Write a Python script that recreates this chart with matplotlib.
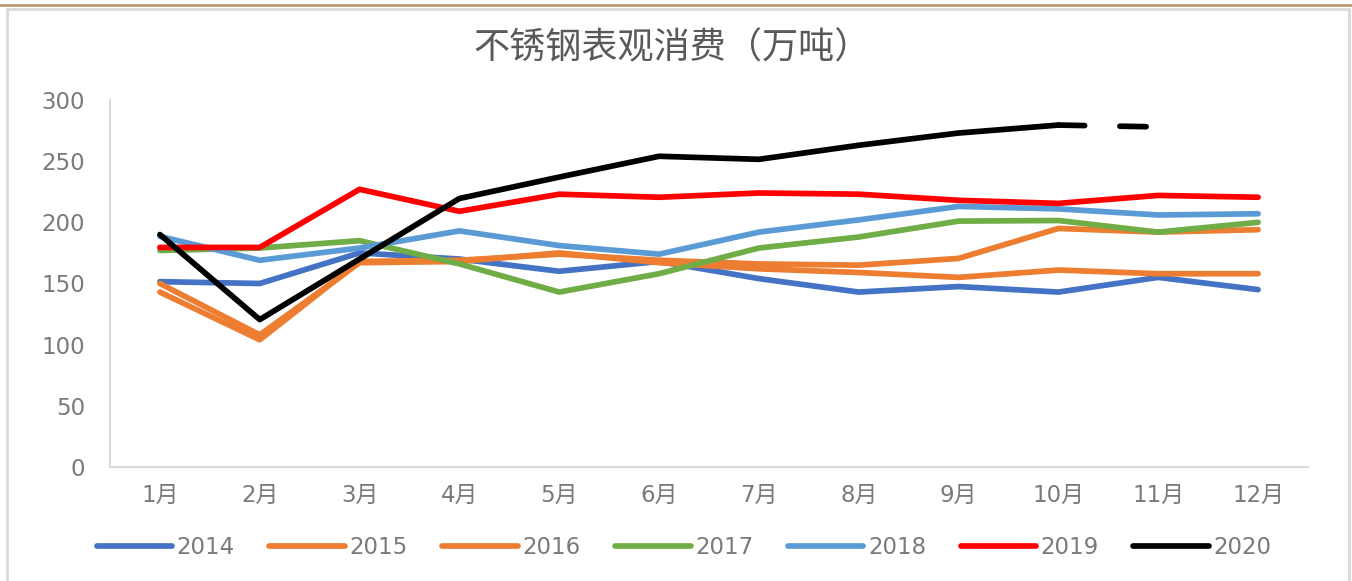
import matplotlib
matplotlib.use('Agg')
import matplotlib.pyplot as plt
from matplotlib.lines import Line2D
from matplotlib.patches import Rectangle
import numpy as np

params = {'font.family': ['DejaVu Sans', 'Noto Sans CJK SC'],
          'font.size': 16,
          'axes.linewidth': 1.5,
          'figure.dpi': 100,
          'savefig.dpi': 100,
          }
plt.rcParams.update(params)

###  DATA  ###

months = ['1月', '2月', '3月', '4月', '5月', '6月', '7月', '8月', '9月', '10月', '11月', '12月']

y2014 = [151.5, 150, 175, 170, 160, 168, 154, 143, 147.5, 143, 155, 145]
y2015 = [150, 108, 167, 168, 175, 167, 162, 159, 155, 161, 158, 158]
y2016 = [143, 104, 168, 169, 174, 169, 166, 165, 170.5, 195, 192, 194]
y2017 = [177, 179, 185, 166, 143, 158, 179, 188, 201, 201.5, 192, 200]
y2018 = [188.5, 169, 179, 193, 181, 174, 192, 202, 213, 211, 206, 207]
y2019 = [179.5, 179.5, 227, 209, 223, 220.5, 224, 223, 218, 215.5, 222, 220.5]
y2020 = [190, 120.5, 170, 219.5, 237, 254, 251.5, 263, 273, 279.5, 278]

labels = ['2014', '2015', '2016', '2017', '2018', '2019', '2020']
colors = ['#4472C4', '#ED7D31', '#ED7D31', '#70AD47', '#5B9BD5', '#FF0000', '#000000']

###  PLOT  ###

fig = plt.figure(figsize=(13.52, 5.81))
ax = fig.add_axes([110/1352, 1-467/581, (1308-110)/1352, (467-100)/581])

x = np.arange(len(months))
lw = 4.1
series = [y2014, y2015, y2016, y2017, y2018, y2019]
for vals, c, lab in zip(series, colors[:6], labels[:6]):
    ax.plot(x[:len(vals)], vals, color=c, lw=lw, solid_capstyle='round',
            solid_joinstyle='round', label=lab)

# 2020: solid up to 10月, dashed to 11月
ax.plot(x[:10], y2020[:10], color='k', lw=lw, solid_capstyle='round',
        solid_joinstyle='round', label='2020', zorder=5)
ax.plot(x[9:11], y2020[9:11], color='k', lw=lw, dashes=(4.6, 6.2),
        dash_capstyle='round', zorder=5)

ax.set_xlim(-0.5, 11.5)
ax.set_ylim(0, 300)
ax.set_yticks(np.arange(0, 301, 50))
ax.set_xticks(x)
ax.set_xticklabels(months)
for s in ['top', 'right']:
    ax.spines[s].set_visible(False)
for s in ['left', 'bottom']:
    ax.spines[s].set_color('#d9d9d9')
ax.tick_params(axis='both', length=0, labelcolor='#7a7a7a', labelsize=16.5)
ax.tick_params(axis='y', pad=18)
ax.tick_params(axis='x', pad=12)

fig.text(0.497, 1-48/581, '不锈钢表观消费（万吨）', ha='center', va='center',
         fontsize=26, color='#595959', fontweight='light',
         family=['Noto Sans CJK SC'])

handles = [Line2D([], [], color=c, lw=lw, solid_capstyle='round') for c in colors]
fig.legend(handles, labels, loc='center', bbox_to_anchor=(0.506, 1-548/581),
           ncol=7, frameon=False, fontsize=16.5, handlelength=3.3,
           handletextpad=0.2, columnspacing=1.5, labelcolor='#7a7a7a')

# outer frame
fig.add_artist(Line2D([0, 1], [1-4.5/581, 1-4.5/581], color='#b09461', lw=1.8,
                      transform=fig.transFigure))
fig.add_artist(Rectangle((6.5/1352, -0.05), (1348.5-6.5)/1352, 1.05-8.5/581,
                         fill=False, edgecolor='#dcdcdc', lw=2.2,
                         transform=fig.transFigure))

fig.savefig('out.png', dpi=100)
